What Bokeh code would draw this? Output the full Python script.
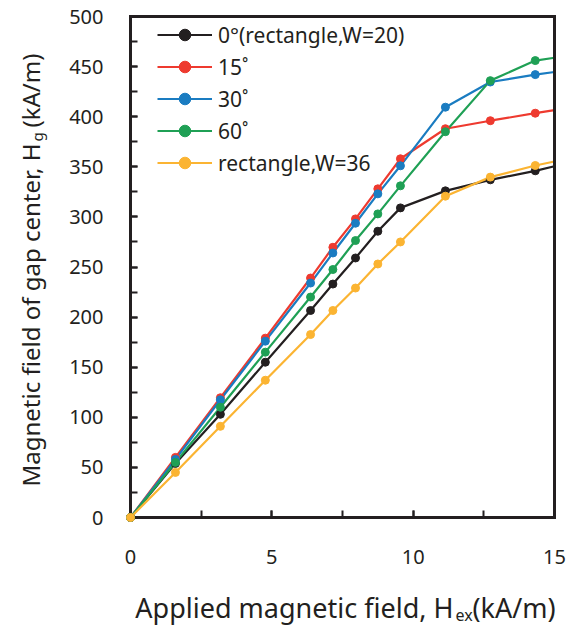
import math
from bokeh.plotting import figure
from bokeh.models import (Label, Legend, LegendItem, SingleIntervalTicker, FixedTicker,
                          Range1d, LinearAxis)
from bokeh.embed import file_html
from bokeh.resources import INLINE

# ---- data ----
# last entry is where each curve meets the right edge of the plot box (x = 15)
x_applied = [0, 1.59, 3.18, 4.77, 6.37, 7.16, 7.96, 8.75, 9.55, 11.14, 12.73, 14.32, 15.0]
h_0deg = [0, 54, 103, 155, 206.6, 233, 259, 285.7, 309, 326, 337, 346, 350.6]
h_15deg = [0, 60, 119.5, 179, 239, 269.7, 298, 328, 358, 388, 396, 403.5, 406.5]
h_30deg = [0, 58, 117.5, 176, 234, 264, 293.7, 323, 351, 409.5, 434.6, 442, 444.6]
h_60deg = [0, 55, 110, 165, 220, 247.5, 276.4, 303, 331, 385, 436, 456, 458.8]
h_rect36 = [0, 45, 91, 137, 182.6, 206.6, 229, 253, 275, 320.7, 339.7, 351.3, 355.3]

series_names = ["0°(rectangle,W=20)", "15˚", "30˚", "60˚", "rectangle,W=36"]
series_values = [h_0deg, h_15deg, h_30deg, h_60deg, h_rect36]
series_colors = ["#231f20", "#ee3a2f", "#1a7cc1", "#1fa055", "#fbb432"]

FONT = "Noto Sans"
TXT = "#231f20"

W, H = 572, 627
# plot box in canvas pixels: x 130..554, y 16..517
PX_L, PX_R, PY_T, PY_B = 130, 554, 16, 517
sx = (PX_R - PX_L) / 15.0
sy = (PY_B - PY_T) / 500.0
x_range = Range1d(-PX_L / sx, 15 + (W - PX_R) / sx)
y_range = Range1d(-(H - PY_B) / sy, 500 + PY_T / sy)

p = figure(width=W, height=H, output_backend="svg", toolbar_location=None,
           x_range=x_range, y_range=y_range,
           min_border_left=0, min_border_right=0, min_border_top=0, min_border_bottom=0)
p.background_fill_color = "white"
p.border_fill_color = "white"
p.outline_line_color = None
p.xgrid.visible = False
p.ygrid.visible = False

items = []
for name, vals, col in zip(series_names, series_values, series_colors):
    r1 = p.line(x_applied, vals, line_color=col, line_width=2.2)
    r2 = p.scatter(x_applied[:-1], vals[:-1], size=8, fill_color=col, line_color=col,
                   level="overlay")
    items.append(LegendItem(label=name, renderers=[r1, r2]))

ROW, GAP = 29, 3
leg_h = 5 * ROW + 4 * GAP
legend = Legend(items=items, location=(PX_L + 27, H - 20 - leg_h), margin=0, padding=0,
                spacing=GAP, glyph_width=55, glyph_height=ROW, label_height=ROW,
                label_standoff=6, label_text_font=FONT, label_text_font_size="21px",
                label_text_color=TXT, border_line_color=None, background_fill_alpha=0)
p.add_layout(legend, "center")

xa = p.xaxis[0]
ya = p.yaxis[0]
xa.fixed_location = 0
ya.fixed_location = 0
xa.bounds = (0, 15)
ya.bounds = (0, 500)
for ax in (xa, ya):
    ax.axis_line_width = 3
    ax.axis_line_color = "#231f20"
    ax.axis_line_cap = "square"
    ax.major_tick_in = 7
    ax.major_tick_out = 0
    ax.minor_tick_in = 7
    ax.minor_tick_out = 0
    ax.major_tick_line_width = 2
    ax.minor_tick_line_width = 2
    ax.major_tick_line_color = "#231f20"
    ax.minor_tick_line_color = "#231f20"
    ax.major_label_text_font = FONT
    ax.major_label_text_font_size = "20px"
    ax.major_label_text_color = TXT

xa.ticker = SingleIntervalTicker(interval=5, num_minor_ticks=2)
ya.ticker = SingleIntervalTicker(interval=50, num_minor_ticks=2)
xa.major_label_standoff = 32
ya.major_label_standoff = 27

# top and right sides of the plot box
top_ax = LinearAxis(fixed_location=500, bounds=(0, 15), ticker=FixedTicker(ticks=[]),
                    axis_line_width=3, axis_line_color="#231f20", axis_line_cap="square",
                    major_tick_line_color=None, minor_tick_line_color=None,
                    major_label_text_font_size="0px")
right_ax = LinearAxis(fixed_location=15, bounds=(0, 500), ticker=FixedTicker(ticks=[]),
                      axis_line_width=3, axis_line_color="#231f20", axis_line_cap="square",
                      major_tick_line_color=None, minor_tick_line_color=None,
                      major_label_text_font_size="0px")
p.add_layout(top_ax, "above")
p.add_layout(right_ax, "right")

def dx(px):
    return (px - PX_L) / sx

def dy(py):
    return (PY_B - py) / sy

def lab(text, x, y, size, align="left", angle=0.0):
    p.add_layout(Label(x=x, y=y, text=text, text_font=FONT, text_font_size=size,
                       text_color=TXT, text_align=align, text_baseline="alphabetic",
                       angle=angle))

# x axis title with subscript
lab("Applied magnetic field, H", dx(453), dy(607), "27px", align="right")
lab("ex", dx(455), dy(614), "16px")
lab("(kA/m)", dx(472), dy(607), "27px")

# y axis title with subscript (rotated)
lab("Magnetic field of gap center, H", dx(30), dy(143), "24px", align="right", angle=math.pi / 2)
lab("g", dx(36), dy(141), "15px", angle=math.pi / 2)
lab("(kA/m)", dx(30), dy(127), "24px", angle=math.pi / 2)

open("out.html", "w").write(file_html(p, INLINE))
